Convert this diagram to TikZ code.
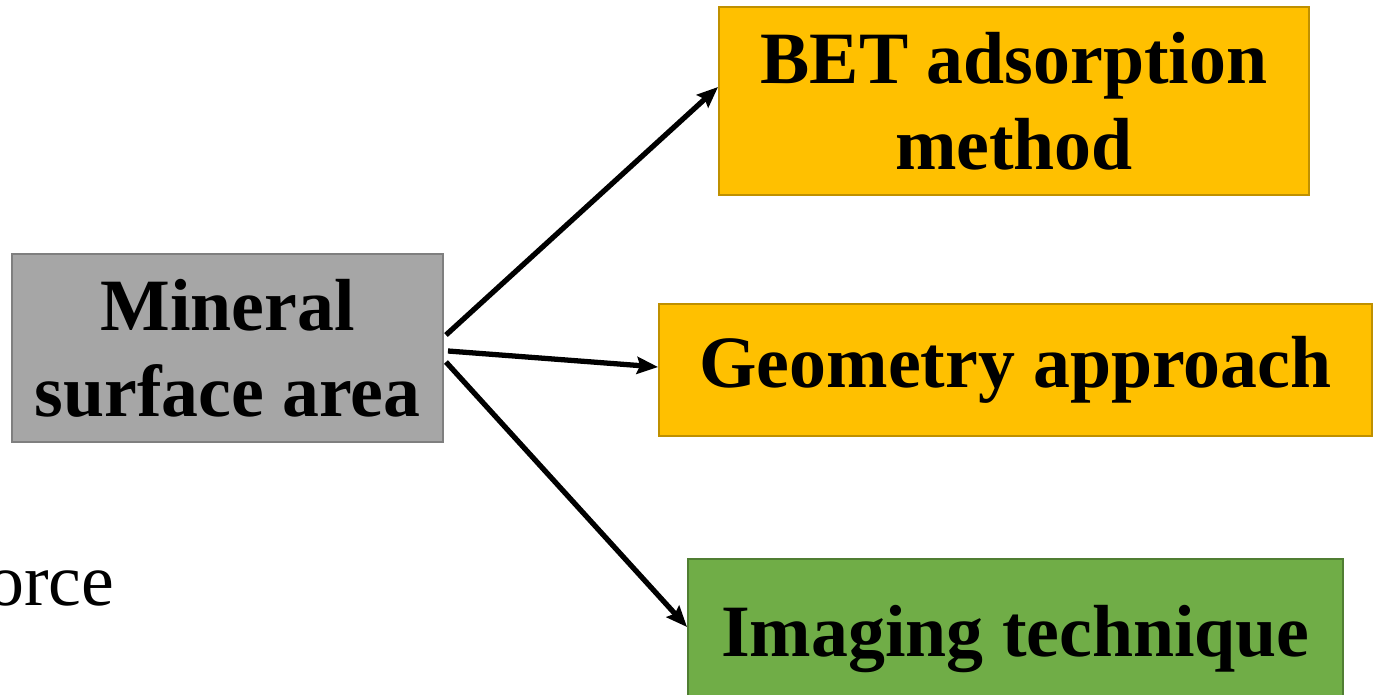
\documentclass[tikz,border=0pt]{standalone}
\usepackage{fontspec}
\setmainfont{Liberation Serif}
\usepackage{tikz}
\usetikzlibrary{arrows.meta}

\definecolor{boxgray}{HTML}{A6A6A6}
\definecolor{linegray}{HTML}{7F7F7F}
\definecolor{boxgold}{HTML}{FFC000}
\definecolor{linegold}{HTML}{BF9000}
\definecolor{boxgreen}{HTML}{70AD47}
\definecolor{linegreen}{HTML}{507E32}

\begin{document}
\begin{tikzpicture} [box/.style = {draw,
    rectangle,
    line width = 1.1pt,
    align = center,
    inner sep = 0pt,
    font = \fontsize{42}{49}\selectfont\bfseries},
  link/.style = {line width = 3pt,
    -{Stealth[length=0.42cm, width=0.34cm, inset=0.06cm]}}]

\useasboundingbox (0,0) rectangle (27.62,13.88);

\node (mineral) at (4.55,6.92) [box, fill=boxgray, draw=linegray,
  minimum width=8.62cm, minimum height=3.76cm] {Mineral\\surface area};
\node (bet) at (20.28,11.86) [box, fill=boxgold, draw=linegold,
  minimum width=11.8cm, minimum height=3.76cm] {BET adsorption\\method};
\node (geometry) at (20.31,6.48) [box, fill=boxgold, draw=linegold,
  minimum width=14.26cm, minimum height=2.64cm] {Geometry approach};
\node (imaging) at (20.31,1.09) [box, fill=boxgreen, draw=linegreen,
  minimum width=13.1cm, minimum height=3.22cm] {Imaging technique};

\node (force) at (-0.26,1.78) [anchor=base west, inner sep=0pt,
  font=\fontsize{42}{49}\selectfont] {orce};

\draw [link] ([xshift=0.04cm, yshift=0.26cm]mineral.east) -- ([yshift=0.28cm]bet.west);
\draw [link] ([xshift=0.08cm, yshift=-0.06cm]mineral.east) -- ([yshift=0.06cm]geometry.west);
\draw [link] ([xshift=0.04cm, yshift=-0.28cm]mineral.east) -- ([yshift=0.25cm]imaging.west);

\end{tikzpicture}
\end{document}
